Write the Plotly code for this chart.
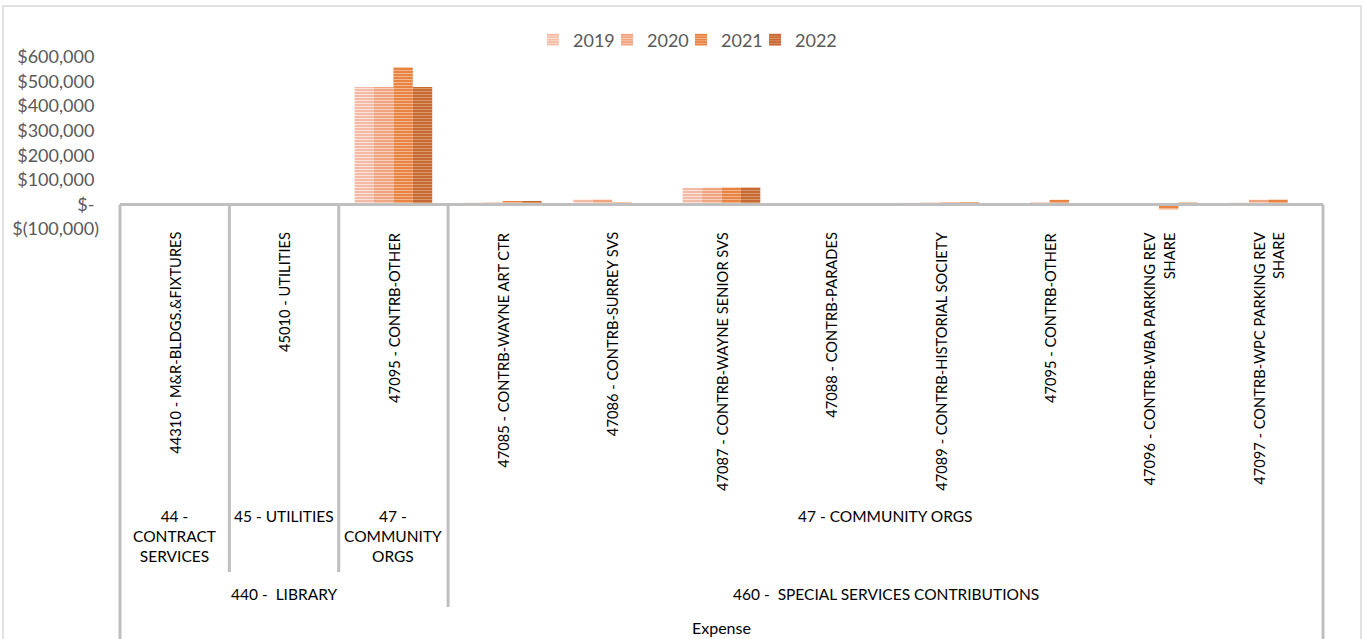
import plotly.graph_objects as go

# ---- data -------------------------------------------------------------
account_labels = [
    "44310 - M&R-BLDGS.&FIXTURES",
    "45010 - UTILITIES",
    "47095 - CONTRB-OTHER",
    "47085 - CONTRB-WAYNE ART CTR",
    "47086 - CONTRB-SURREY SVS",
    "47087 - CONTRB-WAYNE SENIOR SVS",
    "47088 - CONTRB-PARADES",
    "47089 - CONTRB-HISTORIAL SOCIETY",
    "47095 - CONTRB-OTHER",
    "47096 - CONTRB-WBA PARKING REV<br>SHARE",
    "47097 - CONTRB-WPC PARKING REV<br>SHARE",
]
# (label, first account index, last account index)
object_groups = [
    ("44 -<br>CONTRACT<br>SERVICES", 0, 0),
    ("45 - UTILITIES", 1, 1),
    ("47 -<br>COMMUNITY<br>ORGS", 2, 2),
    ("47 - COMMUNITY ORGS", 3, 10),
]
dept_groups = [
    ("440 -\u00a0 LIBRARY", 0, 2),
    ("460 -\u00a0 SPECIAL SERVICES CONTRIBUTIONS", 3, 10),
]
years = ["2019", "2020", "2021", "2022"]
v2019 = [5000, 0, 478000, 8000, 20000, 68000, 2000, 7000, 1000, 0, 8000]
v2020 = [0, 0, 478000, 9000, 20000, 68000, 3000, 8000, 9000, 0, 19000]
v2021 = [0, 0, 558000, 14000, 9000, 69000, 4000, 9000, 19000, -20000, 20000]
v2022 = [5000, 0, 478000, 14000, 1000, 69000, 4000, 9000, 2000, 8000, 2000]
series = [v2019, v2020, v2021, v2022]

y_tickvals = [-100000, 0, 100000, 200000, 300000, 400000, 500000, 600000]
y_ticktext = ["$(100,000)", "$-\u00a0", "$100,000\u00a0", "$200,000\u00a0", "$300,000\u00a0",
              "$400,000\u00a0", "$500,000\u00a0", "$600,000\u00a0"]

# ---- style ------------------------------------------------------------
FONT = "Lato"
W, H = 1362, 639
L, R, T, B = 120, 1362 - 1323, 57, 639 - 229
Y_MIN, Y_MAX = -100000, 600000
base_colors = ["#f2b29a", "#ee9a72", "#e67a34", "#c0602a"]
stripe_colors = ["#fce3d9", "#f8d0bc", "#f4b68c", "#dd9668"]
GRID = "#bfbfbf"

plot_w = W - L - R
plot_h = H - T - B


def px_x(px):
    return (px - L) / plot_w


def px_y(py):
    return (H - B - py) / plot_h


n = len(account_labels)
x = list(range(n))

fig = go.Figure()
for name, vals, col, stripe in zip(years, series, base_colors, stripe_colors):
    fig.add_trace(go.Bar(
        x=x, y=vals, name=name,
        marker=dict(
            color=col,
            line=dict(width=0),
            pattern=dict(shape="-", size=3, solidity=0.45,
                         fgcolor=stripe, bgcolor=col, fillmode="replace"),
        ),
    ))
# empty trailing legend slot so the last fixed-width entry is not clipped
fig.add_trace(go.Scatter(x=[None], y=[None], mode="markers", name="\u00a0",
                         marker=dict(color="rgba(0,0,0,0)", size=1,
                                     line=dict(width=0, color="rgba(0,0,0,0)")),
                         hoverinfo="skip"))

zero_paper = (0 - Y_MIN) / (Y_MAX - Y_MIN)
shapes = []
line = dict(color=GRID, width=3)

# category axis line at zero
shapes.append(dict(type="line", xref="paper", yref="paper", x0=0, x1=1,
                   y0=zero_paper, y1=zero_paper, line=line))
# outer verticals of the category table
for xp in (0, 1):
    shapes.append(dict(type="line", xref="paper", yref="paper", x0=xp, x1=xp,
                       y0=zero_paper, y1=px_y(H + 5), line=line))
# separators between object groups (longer where the department changes)
dept_starts = {g[1] for g in dept_groups}
for label, start, end in object_groups:
    if start == 0:
        continue
    xp = start / n
    bottom = px_y(607) if start in dept_starts else px_y(572)
    shapes.append(dict(type="line", xref="paper", yref="paper", x0=xp, x1=xp,
                       y0=zero_paper, y1=bottom, line=line))
# chart border
shapes.append(dict(type="rect", xref="paper", yref="paper",
                   x0=px_x(3), x1=px_x(1361), y0=px_y(H + 10), y1=px_y(6),
                   line=dict(color="#d9d9d9", width=1.5), fillcolor="rgba(0,0,0,0)",
                   layer="below"))

annotations = []
TXT = "#000000"
for i, lab in enumerate(account_labels):
    annotations.append(dict(
        text=lab, x=(i + 0.5) / n, xref="paper", y=px_y(230), yref="paper",
        xanchor="center", yanchor="top", textangle=-90, align="right",
        showarrow=False, font=dict(family=FONT, size=14.7, color=TXT)))
for lab, s, e in object_groups:
    annotations.append(dict(
        text=lab, x=(s + e + 1) / 2 / n, xref="paper", y=px_y(505), yref="paper",
        xanchor="center", yanchor="top", align="center", showarrow=False,
        font=dict(family=FONT, size=15.5, color=TXT)))
for lab, s, e in dept_groups:
    annotations.append(dict(
        text=lab, x=(s + e + 1) / 2 / n, xref="paper", y=px_y(594), yref="paper",
        xanchor="center", yanchor="middle", align="center", showarrow=False,
        font=dict(family=FONT, size=15.5, color=TXT)))
annotations.append(dict(
    text="Expense", x=0.5, xref="paper", y=px_y(627), yref="paper",
    xanchor="center", yanchor="middle", showarrow=False,
    font=dict(family=FONT, size=16, color=TXT)))

fig.update_layout(
    width=W, height=H,
    margin=dict(l=L, r=R, t=T, b=B, pad=0, autoexpand=False),
    paper_bgcolor="white", plot_bgcolor="white",
    barmode="group", bargap=0.29, bargroupgap=0,
    font=dict(family=FONT, color="#595959"),
    showlegend=True,
    legend=dict(orientation="h", xref="container", yref="container",
                x=718 / W, xanchor="center", y=1 - 40 / H, yanchor="middle",
                font=dict(family=FONT, size=18, color="#595959"),
                itemwidth=30, entrywidth=29, entrywidthmode="pixels",
                borderwidth=0, bgcolor="rgba(0,0,0,0)", traceorder="normal"),
    xaxis=dict(range=[-0.5, n - 0.5], showticklabels=False, showgrid=False,
               zeroline=False, showline=False, ticks=""),
    yaxis=dict(range=[Y_MIN, Y_MAX], tickvals=y_tickvals, ticktext=y_ticktext,
               showgrid=False, zeroline=False, showline=False, ticks="",
               ticklabelstandoff=20,
               tickfont=dict(family=FONT, size=18, color="#595959")),
    shapes=shapes,
    annotations=annotations,
)

fig.write_html("out.html")
